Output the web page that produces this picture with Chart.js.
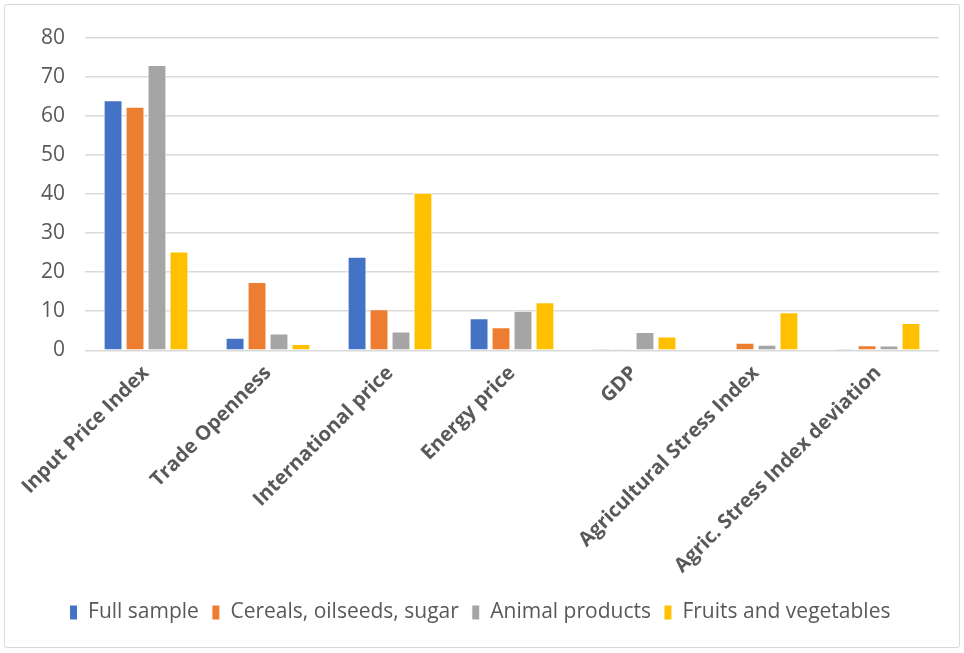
<!DOCTYPE html>
<html>
<head>
<meta charset="utf-8">
<script src="https://cdn.jsdelivr.net/npm/chart.js@4"></script>
<style>
  html, body { margin: 0; padding: 0; background: #fff; }
  #box {
    position: absolute; left: 4px; top: 4px;
    width: 954px; height: 642px;
    border: 1px solid #d9d9d9; border-radius: 3px;
  }
  canvas { display: block; }
</style>
</head>
<body>
<div id="box"><canvas id="chart" width="954" height="642"></canvas></div>
<script>
  // ===================== DATA =====================
  const categories = [
    "Input Price Index", "Trade Openness", "International price", "Energy price",
    "GDP", "Agricultural Stress Index", "Agric. Stress Index deviation"
  ];
  const fullSample = [64.0, 3.2, 23.9, 8.2, 0.05, 0.2, 0.1];
  const cereals = [62.3, 17.5, 10.5, 5.9, 0.05, 1.9, 1.3];
  const animal = [73.0, 4.3, 4.8, 10.1, 4.7, 1.4, 1.2];
  const fruits = [25.3, 1.6, 40.3, 12.3, 3.5, 9.7, 7.0];
  const yTicks = [0, 10, 20, 30, 40, 50, 60, 70, 80];

  const FONT = '"Open Sans", Lato, sans-serif';
  const GREY = "#595959";

  function serie(label, data, color) {
    return {
      label, data,
      backgroundColor: color,
      borderColor: "#ffffff",
      borderWidth: 1,
      categoryPercentage: 0.72,
      barPercentage: 0.86,
    };
  }

  new Chart(document.getElementById("chart"), {
    type: "bar",
    data: {
      labels: categories,
      datasets: [
        serie("Full sample", fullSample, "#4472C4"),
        serie("Cereals, oilseeds, sugar", cereals, "#ED7D31"),
        serie("Animal products", animal, "#A5A5A5"),
        serie("Fruits and vegetables", fruits, "#FFC000"),
      ],
    },
    options: {
      responsive: false,
      animation: false,
      layout: { padding: { left: 16, right: 20, top: 10, bottom: 14 } },
      plugins: {
        tooltip: { enabled: false },
        legend: {
          position: "bottom",
          labels: {
            boxWidth: 8, boxHeight: 15,
            padding: 13,
            color: GREY,
            font: { family: FONT, size: 21 },
          },
        },
      },
      scales: {
        x: {
          grid: { display: false, drawTicks: false },
          border: { display: false },
          ticks: {
            minRotation: 45, maxRotation: 45,
            color: GREY,
            padding: 11,
            font: { family: FONT, size: 20, weight: "bold" },
          },
        },
        y: {
          min: 0, max: 80,
          afterBuildTicks: (axis) => { axis.ticks = yTicks.map((v) => ({ value: v })); },
          grid: { color: "#d9d9d9", lineWidth: 1.5, drawTicks: false },
          border: { display: false },
          ticks: {
            color: GREY,
            padding: 20,
            font: { family: FONT, size: 21 },
          },
        },
      },
    },
  });
</script>
</body>
</html>
